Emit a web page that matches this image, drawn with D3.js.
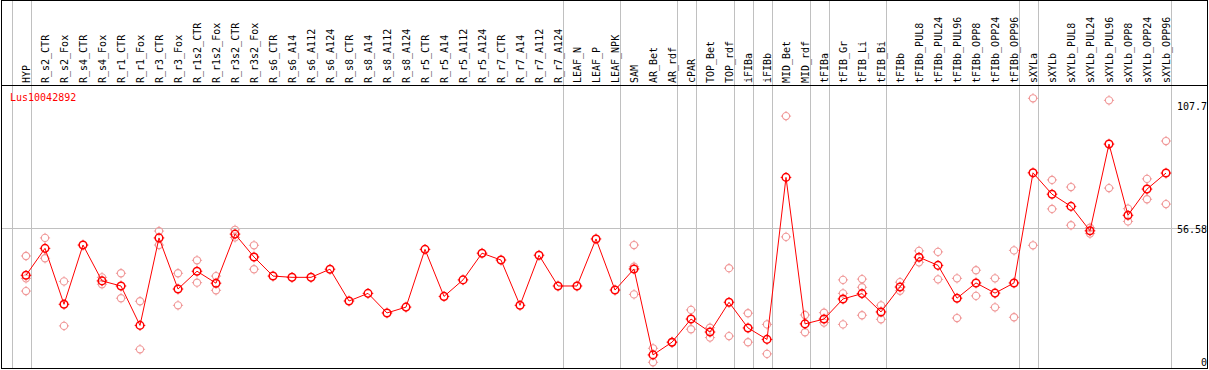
<!DOCTYPE html>
<html><head><meta charset="utf-8">
<script src="https://cdn.jsdelivr.net/npm/d3@7"></script>
<style>body{margin:0;background:#fff}svg{display:block}</style>
</head><body><svg id="c" width="1209" height="370"></svg>
<script>
const categories = ["HYP","R_s2_CTR","R_s2_Fox","R_s4_CTR","R_s4_Fox","R_r1_CTR","R_r1_Fox","R_r3_CTR","R_r3_Fox","R_r1s2_CTR","R_r1s2_Fox","R_r3s2_CTR","R_r3s2_Fox","R_s6_CTR","R_s6_A14","R_s6_A112","R_s6_A124","R_s8_CTR","R_s8_A14","R_s8_A112","R_s8_A124","R_r5_CTR","R_r5_A14","R_r5_A112","R_r5_A124","R_r7_CTR","R_r7_A14","R_r7_A112","R_r7_A124","LEAF_N","LEAF_P","LEAF_NPK","SAM","AR_Bet","AR_rdf","cPAR","TOP_Bet","TOP_rdf","iFIBa","iFIBb","MID_Bet","MID_rdf","tFIBa","tFIB_Gr","tFIB_Li","tFIB_Bi","tFIBb","tFIBb_PUL8","tFIBb_PUL24","tFIBb_PUL96","tFIBb_OPP8","tFIBb_OPP24","tFIBb_OPP96","sXYLa","sXYLb","sXYLb_PUL8","sXYLb_PUL24","sXYLb_PUL96","sXYLb_OPP8","sXYLb_OPP24","sXYLb_OPP96"];
const meanValues = [38.1,48.7,26.7,50.0,35.9,33.9,18.4,52.8,32.7,39.7,35.0,54.3,45.3,37.8,37.3,37.3,40.5,28.0,31.0,23.3,25.6,48.3,29.8,36.3,46.8,44.1,26.3,46.0,33.9,33.9,52.4,32.3,40.6,6.8,11.8,20.9,15.8,27.5,17.4,12.9,76.6,19.0,20.9,28.8,30.9,23.7,33.5,45.2,42.0,29.1,35.1,31.1,35.1,78.4,70.0,65.2,55.6,89.7,61.7,72.0,78.3];
const replicateValues = [
 [45.7,36.9,31.9],[52.8,44.8],[35.7,18.2],[],[37.3,34.6],[38.9,29.1],[27.9,9.0],[55.5,50.0],[38.9,26.3],[44.0,35.2],[37.8,32.2],[56.0,53.0],[49.9,40.5],
 [],[],[],[],[],[],[],[],[],[],[],[],[],[],[],[],[],[],[],
 [50.0,41.5,30.6],[9.4,3.9],[11.9,11.7],[24.5,16.9],[17.5,13.6],[40.9,14.2],[23.2,11.8],[18.8,7.2],[100.7,53.2],[22.5,15.7],[23.4,19.5],[36.3,31.0,18.8],[36.6,33.4,22.4],[26.3,20.8],[35.4,32.0],[47.7,43.2],[47.3,36.5],[36.9,21.3],[40.1,30.0],[36.9,25.5],[47.9,21.6],
 [107.7,49.9],[75.6,64.2],[72.8,57.8],[56.8,54.5],[106.9,72.4],[64.3,59.3],[76.0,68.0],[90.9,66.1]
];
const separatorsAfter = [-1,0,28,31,34,35,37,38,39,41,42,45,52,53,60];
const yTickLabels = ["107.7","56.58","0"];
const yTickValues = [107.7,56.58,0];
const geneLabel = "Lus10042892";

const svg = d3.select("#c");
const plotTop = 85.5, plotBottom = 368.5, plotLeft = 1.5, plotRight = 1207.5;
const x = d3.scalePoint().domain(categories).range([26, 26 + 19*(categories.length-1)]);
const y = d3.scaleLinear().domain([0, 107.7]).range([372.2, 98.3]);
const step = x.step();
const font = "'DejaVu Sans Mono', 'Liberation Mono', monospace";

// separators
svg.append("g").selectAll("line").data(separatorsAfter).join("line")
  .attr("x1", d => Math.round(26 + step*d + 4.5) + 0.5)
  .attr("x2", d => Math.round(26 + step*d + 4.5) + 0.5)
  .attr("y1", 0).attr("y2", plotBottom)
  .attr("stroke", "#c0c0c0").attr("stroke-width", 1);

// mid gridline
svg.append("g").selectAll("line").data(yTickValues.filter((v,i)=>i===1)).join("line")
  .attr("x1", plotLeft).attr("x2", plotRight)
  .attr("y1", d => Math.round(y(d)) + 0.5).attr("y2", d => Math.round(y(d)) + 0.5)
  .attr("stroke", "#c0c0c0");

// frame
svg.append("rect").attr("x", plotLeft).attr("y", 0.5).attr("width", plotRight-plotLeft).attr("height", plotBottom-0.5)
  .attr("fill", "none").attr("stroke", "#000");
svg.append("line").attr("x1", plotLeft).attr("x2", plotRight).attr("y1", plotTop).attr("y2", plotTop).attr("stroke", "#000");

// category labels
svg.append("g").selectAll("text").data(categories).join("text")
  .attr("transform", d => `translate(${x(d)+4},83) rotate(-90)`)
  .attr("font-family", font).attr("font-size", 10).attr("fill", "#000")
  .text(d => d);

// y labels
svg.append("g").selectAll("text").data(yTickValues).join("text")
  .attr("x", 1207).attr("text-anchor", "end")
  .attr("y", d => Math.min(Math.max(y(d) + 5, 110), 366))
  .attr("font-family", font).attr("font-size", 10).attr("fill", "#000")
  .text((d,i) => yTickLabels[i]);

svg.append("text").attr("x", 10).attr("y", 101).attr("font-family", font).attr("font-size", 10)
  .attr("fill", "#ff0000").text(geneLabel);

function marker(g, color, r, sw) {
  g.append("circle").attr("r", r).attr("fill", "none").attr("stroke", color).attr("stroke-width", sw);
  [[0,-1],[0,1],[-1,0],[1,0]].forEach(([dx,dy]) => {
    g.append("line").attr("x1", dx*(r)).attr("y1", dy*(r)).attr("x2", dx*(r+1.5)).attr("y2", dy*(r+1.5))
      .attr("stroke", color).attr("stroke-width", 1);
  });
}

// replicates
const reps = [];
replicateValues.forEach((arr, i) => arr.forEach(v => reps.push({c: categories[i], v})));
svg.append("g").selectAll("g").data(reps).join("g")
  .attr("transform", d => `translate(${x(d.c)},${y(d.v)})`)
  .each(function(){ marker(d3.select(this), "#f09898", 3.6, 1.1); });

// line
const pts = categories.map((c,i) => ({c, v: meanValues[i]}));
svg.append("path").datum(pts)
  .attr("d", d3.line().x(d => x(d.c)).y(d => y(d.v)))
  .attr("fill", "none").attr("stroke", "#ff0000").attr("stroke-width", 1);

svg.append("g").selectAll("g").data(pts).join("g")
  .attr("transform", d => `translate(${x(d.c)},${y(d.v)})`)
  .each(function(){ marker(d3.select(this), "#ff0000", 3.8, 1.5); });
</script>
</body></html>
